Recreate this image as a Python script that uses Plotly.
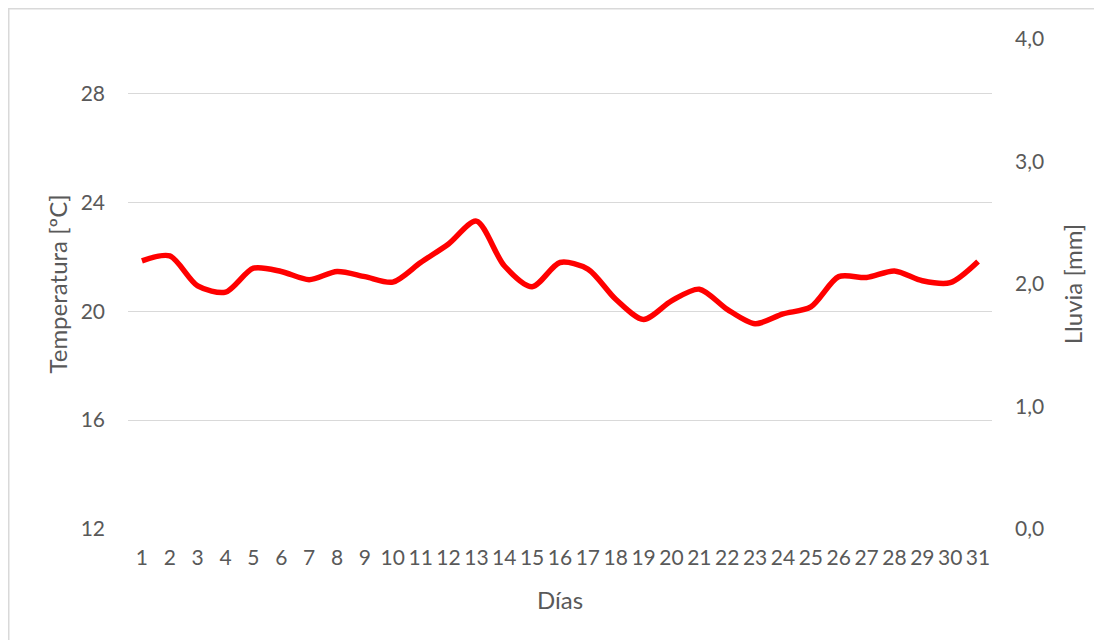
import plotly.graph_objects as go

dias = list(range(1, 32))
temperatura = [21.85, 22.03, 20.93, 20.70, 21.58, 21.46, 21.16, 21.46, 21.27, 21.07,
               21.79, 22.47, 23.31, 21.67, 20.90, 21.79, 21.55, 20.44, 19.70, 20.38,
               20.81, 20.07, 19.54, 19.90, 20.16, 21.27, 21.24, 21.48, 21.12, 21.05,
               21.83]
lluvia = [None] * 31

temp_ticks = [12, 16, 20, 24, 28]
lluvia_ticks = [0, 1, 2, 3, 4]

FONT = "Lato"
GREY = "#595959"
TICK = 21
TITLE = 24

W, H = 1094, 632
L, R, T, B = 120, 110, 31, 111
PW, PH = W - L - R, H - T - B

fig = go.Figure()
fig.add_trace(go.Scatter(
    x=dias, y=temperatura, mode="lines",
    line=dict(color="#FF0000", width=5.5, shape="spline", smoothing=0.8),
    name="Temperatura", showlegend=False, hoverinfo="x+y"))
fig.add_trace(go.Scatter(
    x=dias, y=lluvia, mode="lines", yaxis="y2",
    line=dict(color="#4472C4", width=3), name="Lluvia", showlegend=False))

fig.update_layout(
    width=W, height=H,
    margin=dict(l=L, r=R, t=T, b=B),
    paper_bgcolor="white", plot_bgcolor="white",
    separators=",.",
    font=dict(family=FONT, color=GREY, size=TICK),
    xaxis=dict(
        range=[0.5, 31.5], tickmode="array", tickvals=dias,
        ticktext=[str(d) for d in dias], tickangle=0,
        showgrid=False, zeroline=False, showline=False, ticks="",
        tickfont=dict(size=TICK, color=GREY), ticklabelstandoff=14,
        title=dict(text="Días", font=dict(size=TITLE, color=GREY), standoff=24),
    ),
    yaxis=dict(
        range=[12, 30], tickmode="array", tickvals=temp_ticks,
        showgrid=True, gridcolor="#D9D9D9", gridwidth=1.3,
        zeroline=False, showline=False, ticks="",
        tickfont=dict(size=TICK, color=GREY), ticklabelstandoff=22,
        title=dict(text="Temperatura [ºC]", font=dict(size=TITLE, color=GREY), standoff=6),
    ),
    yaxis2=dict(
        range=[0, 4], tickmode="array", tickvals=lluvia_ticks, tickformat=".1f",
        overlaying="y", side="right", showgrid=False, zeroline=False,
        showline=False, ticks="",
        tickfont=dict(size=TICK, color=GREY), ticklabelstandoff=22,
        title=dict(text="Lluvia [mm]", font=dict(size=TITLE, color=GREY), standoff=22),
    ),
    shapes=[
        dict(type="line", xref="paper", yref="paper",
             x0=-L / PW, x1=(W + 20 - L) / PW,
             y0=(PH + T - 0.5) / PH, y1=(PH + T - 0.5) / PH,
             line=dict(color="#D9D9D9", width=2)),
        dict(type="line", xref="paper", yref="paper",
             x0=(0.5 - L) / PW, x1=(0.5 - L) / PW,
             y0=-(B + 20) / PH, y1=(PH + T) / PH,
             line=dict(color="#D9D9D9", width=2)),
    ],
)

fig.write_html("out.html")
